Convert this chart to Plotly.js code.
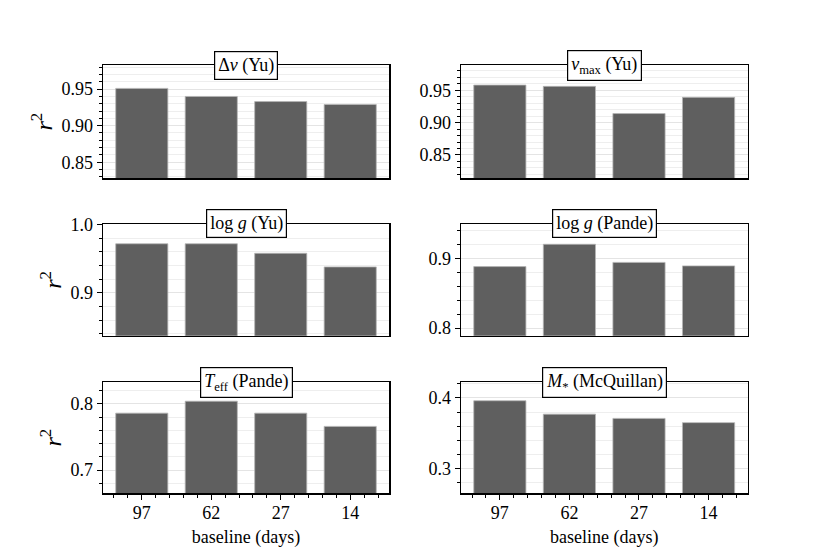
<!DOCTYPE html>
<html>
<head>
<meta charset="utf-8">
<script src="https://cdn.plot.ly/plotly-3.0.1.min.js"></script>
<style>
  html, body { margin: 0; padding: 0; background: #ffffff; }
  #chart { width: 830px; height: 554px; }
</style>
</head>
<body>
<div id="chart"></div>
<script>
// baseline lengths (days), same for every panel
const baseline = ['97', '62', '27', '14'];

// r^2 per panel
const dnuYu = [0.951, 0.940, 0.933, 0.929];
const numaxYu = [0.958, 0.956, 0.914, 0.939];
const loggYu = [0.972, 0.972, 0.958, 0.938];
const loggPande = [0.888, 0.920, 0.894, 0.889];
const teffPande = [0.786, 0.804, 0.786, 0.766];
const massMcQuillan = [0.396, 0.377, 0.371, 0.365];

const panelTitles = [
  'Δ<i>ν</i> (Yu)',
  '<i>ν</i><sub>max</sub> (Yu)',
  'log <i>g</i> (Yu)',
  'log <i>g</i> (Pande)',
  '<i>T</i><sub>eff</sub> (Pande)',
  '<i>M</i><sub>*</sub> (McQuillan)'
];
const panelValues = [dnuYu, numaxYu, loggYu, loggPande, teffPande, massMcQuillan];

// axis settings per panel
const yRanges = [[0.828, 0.983], [0.814, 0.989], [0.837, 1.001], [0.789, 0.949], [0.665, 0.833], [0.265, 0.4225]];
const yMajor = [0.05, 0.05, 0.1, 0.1, 0.1, 0.1];
const yMinor = [0.01, 0.01, 0.02, 0.02, 0.02, 0.02];
const yFormat = ['.2f', '.2f', '.1f', '.1f', '.1f', '.1f'];

const W = 830, H = 554;
const colDomains = [[102.7 / W, 389.3 / W], [460.7 / W, 747.7 / W]];
const rowDomains = [[1 - 178.3 / H, 1 - 65 / H], [1 - 335.7 / H, 1 - 224 / H], [1 - 493.3 / H, 1 - 382 / H]];

const font = 'Liberation Serif';
const barColor = '#5f5f5f';

const xIdx = baseline.map((_, i) => i);
const traces = [];
const layout = {
  width: W,
  height: H,
  margin: { l: 0, r: 0, t: 0, b: 0 },
  paper_bgcolor: '#ffffff',
  plot_bgcolor: '#ffffff',
  showlegend: false,
  bargap: 0,
  font: { family: font, size: 18, color: '#000000' },
  annotations: []
};

panelValues.forEach((vals, p) => {
  const row = Math.floor(p / 2);
  const col = p % 2;
  const n = p + 1;
  const xa = n === 1 ? 'x' : 'x' + n;
  const ya = n === 1 ? 'y' : 'y' + n;
  const bottom = row === 2;

  traces.push({
    type: 'bar',
    x: xIdx,
    y: vals,
    width: 0.75,
    xaxis: xa,
    yaxis: ya,
    marker: { color: barColor, line: { color: '#b5b5b5', width: 0.8 } },
    hoverinfo: 'y'
  });

  layout['xaxis' + (n === 1 ? '' : n)] = {
    domain: colDomains[col],
    anchor: ya,
    range: [-0.5625, 3.5625],
    tickmode: 'array',
    tickvals: xIdx,
    ticktext: baseline,
    showticklabels: bottom,
    ticks: bottom ? 'outside' : '',
    ticklen: 5,
    tickwidth: 1,
    tickcolor: '#000000',
    ticklabelstandoff: -2,
    minor: bottom ? { dtick: 0.2, tick0: 0, ticks: 'outside', ticklen: 3, tickwidth: 1, tickcolor: '#000000' } : { ticks: '' },
    showgrid: false,
    zeroline: false,
    showline: true,
    mirror: true,
    linecolor: '#000000',
    linewidth: 1.2,
    tickfont: { family: font, size: 18 },
    title: bottom ? { text: 'baseline (days)', font: { family: font, size: 18 }, standoff: 8 } : { text: '' }
  };

  layout['yaxis' + (n === 1 ? '' : n)] = {
    domain: rowDomains[row],
    anchor: xa,
    range: yRanges[p],
    tick0: 0,
    dtick: yMajor[p],
    tickformat: yFormat[p],
    ticks: 'outside',
    ticklen: 5,
    tickwidth: 1,
    tickcolor: '#000000',
    minor: { dtick: yMinor[p], tick0: 0, ticks: 'outside', ticklen: 3, tickwidth: 1, tickcolor: '#000000', showgrid: true, gridcolor: '#eeeeee', gridwidth: 1 },
    showgrid: true,
    gridcolor: '#e4e4e4',
    gridwidth: 1,
    zeroline: false,
    showline: true,
    mirror: true,
    linecolor: '#000000',
    linewidth: 1.2,
    tickfont: { family: font, size: 18 },
    title: col === 0 ? { text: '<i>r</i><sup>2</sup>', font: { family: font, size: 24 }, standoff: 2 } : { text: '' }
  };

  layout.annotations.push({
    xref: 'paper',
    yref: 'paper',
    x: (colDomains[col][0] + colDomains[col][1]) / 2,
    y: rowDomains[row][1],
    xanchor: 'center',
    yanchor: 'middle',
    text: panelTitles[p],
    showarrow: false,
    font: { family: font, size: 18, color: '#000000' },
    bgcolor: '#ffffff',
    bordercolor: '#000000',
    borderwidth: 1.2,
    borderpad: 3
  });
});

Plotly.newPlot('chart', traces, layout, { displayModeBar: false, staticPlot: true });
</script>
</body>
</html>
